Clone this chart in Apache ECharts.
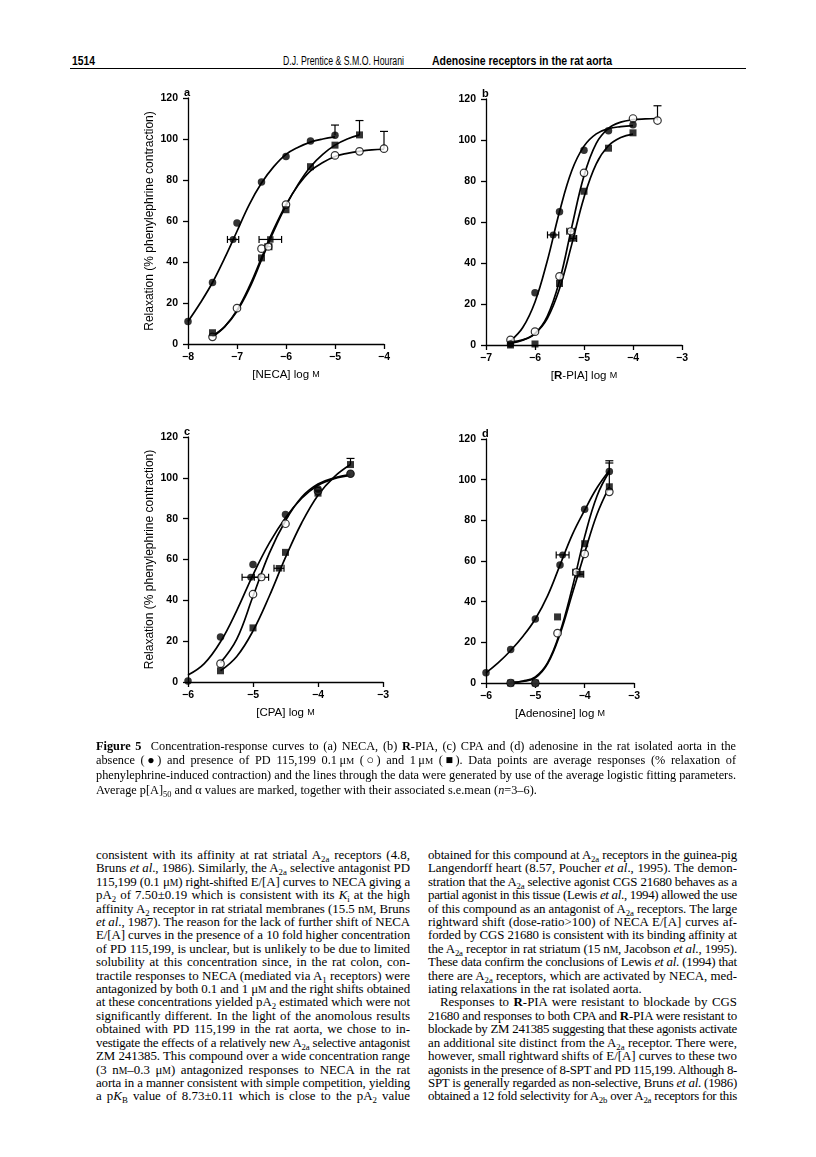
<!DOCTYPE html>
<html>
<head>
<meta charset="utf-8">
<script src="https://cdn.jsdelivr.net/npm/echarts@6/dist/echarts.min.js"></script>
<style>
body { margin: 0; background: #fff; }
#page { position: relative; width: 816px; height: 1157px; overflow: hidden; background: #fff; }
#main { position: absolute; left: 0; top: 0; width: 816px; height: 745px; }
.hd { position: absolute; top: 54px; font-family: 'Liberation Sans', Arial, sans-serif; font-size: 12.5px; line-height: 14px; color: #000; white-space: nowrap; transform-origin: 0 0; }
.rule { position: absolute; left: 70px; top: 68px; width: 676px; border-top: 1.5px solid #000; }
.cap { position: absolute; left: 96px; top: 739px; width: 640px; font-family: 'Liberation Serif', serif; font-size: 12.3px; line-height: 14.2px; color: #000; }
.col { position: absolute; top: 849px; font-family: 'Liberation Serif', serif; font-size: 12.9px; line-height: 13.4px; color: #000; }
.cap div, .col div { white-space: nowrap; text-align: justify; text-align-last: justify; }
.cap div.last, .col div.last { text-align-last: left; }
.ind { text-indent: 12px; }
sub { font-size: 0.68em; vertical-align: -0.3em; line-height: 0; }
.sc { font-size: 0.75em; }
</style>
</head>
<body>
<div id="page">
  <div class="hd" data-w="23" style="left:72px;font-weight:bold;">1514</div>
  <div class="hd" data-w="121" style="left:283px;">D.J. Prentice &amp; S.M.O. Hourani</div>
  <div class="hd" data-w="180" style="left:432px;font-weight:bold;">Adenosine receptors in the rat aorta</div>
  <div class="rule"></div>

  <div id="main"></div>

  <div class="cap">
    <div><b>Figure 5</b>&nbsp; Concentration-response curves to (a) NECA, (b) <b>R</b>-PIA, (c) CPA and (d) adenosine in the rat isolated aorta in the</div>
    <div>absence (&#9679;) and presence of PD 115,199 0.1&thinsp;&mu;<span class="sc">M</span> (&#9675;) and 1&thinsp;&mu;<span class="sc">M</span> (&#9632;). Data points are average responses (% relaxation of</div>
    <div>phenylephrine-induced contraction) and the lines through the data were generated by use of the average logistic fitting parameters.</div>
    <div class="last">Average p[A]<sub>50</sub> and &alpha; values are marked, together with their associated s.e.mean (<i>n</i>=3&ndash;6).</div>
  </div>

  <div class="col" style="left:96px;width:314px;">
    <div>consistent with its affinity at rat striatal A<sub>2a</sub> receptors (4.8,</div>
    <div>Bruns <i>et al</i>., 1986). Similarly, the A<sub>2a</sub> selective antagonist PD</div>
    <div>115,199 (0.1 &mu;<span class="sc">M</span>) right-shifted E/[A] curves to NECA giving a</div>
    <div>pA<sub>2</sub> of 7.50&plusmn;0.19 which is consistent with its <i>K</i><sub>i</sub> at the high</div>
    <div>affinity A<sub>2</sub> receptor in rat striatal membranes (15.5 n<span class="sc">M</span>, Bruns</div>
    <div><i>et al</i>., 1987). The reason for the lack of further shift of NECA</div>
    <div>E/[A] curves in the presence of a 10 fold higher concentration</div>
    <div>of PD 115,199, is unclear, but is unlikely to be due to limited</div>
    <div>solubility at this concentration since, in the rat colon, con-</div>
    <div>tractile responses to NECA (mediated via A<sub>1</sub> receptors) were</div>
    <div>antagonized by both 0.1 and 1 &mu;<span class="sc">M</span> and the right shifts obtained</div>
    <div>at these concentrations yielded pA<sub>2</sub> estimated which were not</div>
    <div>significantly different. In the light of the anomolous results</div>
    <div>obtained with PD 115,199 in the rat aorta, we chose to in-</div>
    <div>vestigate the effects of a relatively new A<sub>2a</sub> selective antagonist</div>
    <div>ZM 241385. This compound over a wide concentration range</div>
    <div>(3 n<span class="sc">M</span>&ndash;0.3 &mu;<span class="sc">M</span>) antagonized responses to NECA in the rat</div>
    <div>aorta in a manner consistent with simple competition, yielding</div>
    <div>a p<i>K</i><sub>B</sub> value of 8.73&plusmn;0.11 which is close to the pA<sub>2</sub> value</div>
  </div>

  <div class="col" style="left:428px;width:309px;">
    <div>obtained for this compound at A<sub>2a</sub> receptors in the guinea-pig</div>
    <div>Langendorff heart (8.57, Poucher <i>et al</i>., 1995). The demon-</div>
    <div>stration that the A<sub>2a</sub> selective agonist CGS 21680 behaves as a</div>
    <div>partial agonist in this tissue (Lewis <i>et al</i>., 1994) allowed the use</div>
    <div>of this compound as an antagonist of A<sub>2a</sub> receptors. The large</div>
    <div>rightward shift (dose-ratio&gt;100) of NECA E/[A] curves af-</div>
    <div>forded by CGS 21680 is consistent with its binding affinity at</div>
    <div>the A<sub>2a</sub> receptor in rat striatum (15 n<span class="sc">M</span>, Jacobson <i>et al</i>., 1995).</div>
    <div>These data confirm the conclusions of Lewis <i>et al</i>. (1994) that</div>
    <div>there are A<sub>2a</sub> receptors, which are activated by NECA, med-</div>
    <div class="last">iating relaxations in the rat isolated aorta.</div>
    <div class="ind">Responses to <b>R</b>-PIA were resistant to blockade by CGS</div>
    <div>21680 and responses to both CPA and <b>R</b>-PIA were resistant to</div>
    <div>blockade by ZM 241385 suggesting that these agonists activate</div>
    <div>an additional site distinct from the A<sub>2a</sub> receptor. There were,</div>
    <div>however, small rightward shifts of E/[A] curves to these two</div>
    <div>agonists in the presence of 8-SPT and PD 115,199. Although 8-</div>
    <div>SPT is generally regarded as non-selective, Bruns <i>et al</i>. (1986)</div>
    <div>obtained a 12 fold selectivity for A<sub>2b</sub> over A<sub>2a</sub> receptors for this</div>
  </div>
</div>

<script>
// squeeze header runs and over-long text lines to the widths of the page
function fitText() {
    document.querySelectorAll('.hd').forEach(function (el) {
        var w = el.getBoundingClientRect().width;
        var target = parseFloat(el.getAttribute('data-w'));
        el.style.transform = 'scaleX(' + (target / w) + ')';
    });
    document.querySelectorAll('.cap div, .col div').forEach(function (div) {
        var W = div.clientWidth;
        var indent = div.classList.contains('ind') ? 12 : 0;
        var keepLast = div.classList.contains('last');
        div.style.textAlign = 'left';
        div.style.textAlignLast = 'left';
        var r = document.createRange();
        r.selectNodeContents(div);
        var w = r.getBoundingClientRect().width + indent;
        if (w > W) {
            var n = div.textContent.length;
            div.style.letterSpacing = (-(w - W + 1) / n) + 'px';
        }
        div.style.textAlign = '';
        div.style.textAlignLast = keepLast ? 'left' : '';
    });
}
fitText();

// ---- data (log M, % relaxation) ----
// (a) NECA
var aCtrlX = [-8, -7.5, -7, -6.5, -6, -5.5, -5];
var aCtrlY = [11, 30, 59, 79, 91.5, 99, 101.8];
var aOpenX = [-7.5, -7, -6.5, -6, -5, -4.5, -4];
var aOpenY = [3.5, 17.5, 46.5, 68, 92, 94, 95.3];
var aSqX = [-7.5, -6.5, -6, -5.5, -5, -4.5];
var aSqY = [5.5, 42, 65.5, 86.5, 97, 102];
var aCtrlCurveX = [-8, -7.75, -7.5, -7.25, -7, -6.75, -6.5, -6.25, -6, -5.75, -5.5, -5.25, -5];
var aCtrlCurveY = [11, 20, 30, 42, 55, 68, 78.5, 86.5, 92.5, 96, 98.5, 100, 101];
var aOpenCurveX = [-7.5, -7.25, -7, -6.75, -6.5, -6.25, -6, -5.75, -5.5, -5.25, -5, -4.75, -4.5, -4.25, -4];
var aOpenCurveY = [3.5, 8.5, 16.5, 28, 42, 56, 68, 77.5, 84.5, 88.5, 91.5, 93, 94, 94.7, 95];
var aSqCurveX = [-7.5, -7.25, -7, -6.75, -6.5, -6.25, -6, -5.75, -5.5, -5.25, -5, -4.75, -4.5];
var aSqCurveY = [4, 8.5, 16, 27, 41, 55, 67.5, 78, 86.5, 92.5, 97, 100, 102];
var aVErr = [[-5, 101.8, 106.8], [-4.5, 102, 109], [-4, 95.3, 103.7]];
var aHErr = [[-7.195, -6.965, 51, 'c'], [-6.55, -6.09, 51, 's'], [-6.43, -6.29, 47.5, 'o']];

// (b) R-PIA
var bCtrlX = [-6.5, -6, -5.5, -5, -4.5, -4];
var bCtrlY = [0.5, 25.5, 65, 95, 104.5, 107.5];
var bOpenX = [-6.5, -6, -5.5, -5, -4, -3.5];
var bOpenY = [2.5, 6.5, 33.5, 84, 110.5, 109.5];
var bSqX = [-6.5, -6, -5.5, -5, -4.5, -4];
var bSqY = [0, 0.5, 30, 75, 96, 103.5];
var bCtrlCurveX = [-6.5, -6.25, -6, -5.75, -5.5, -5.25, -5, -4.75, -4.5, -4.25, -4];
var bCtrlCurveY = [2, 8.5, 21, 41, 65, 85, 97, 103, 105.5, 106.5, 107];
var bOpenCurveX = [-6.5, -6.25, -6, -5.75, -5.5, -5.25, -5, -4.75, -4.5, -4.25, -4, -3.75, -3.5];
var bOpenCurveY = [1.5, 2.5, 5.6, 14, 31.3, 57.5, 82.6, 98.4, 105.7, 108.7, 109.9, 110.3, 110.5];
var bSqCurveX = [-6.5, -6.25, -6, -5.75, -5.5, -5.25, -5, -4.75, -4.5, -4.25, -4];
var bSqCurveY = [0.9, 2.3, 5.6, 12.9, 27.4, 49.1, 72, 88.4, 97.2, 101.2, 102.9];
var bVErr = [[-3.5, 109.5, 116.7]];
var bHErr = [[-5.745, -5.515, 53.7, 'c'], [-5.35, -5.19, 55.5, 'o'], [-5.29, -5.15, 52, 's']];

// (c) CPA
var cCtrlX = [-6, -5.5, -5, -4.5, -4, -3.5];
var cCtrlY = [0.5, 22, 57.5, 82, 94.5, 102];
var cOpenX = [-5.5, -5, -4.5, -4, -3.5];
var cOpenY = [9, 43, 77.5, 93.5, 102];
var cSqX = [-5.5, -5, -4.5, -4, -3.5];
var cSqY = [5.5, 26.5, 63.5, 92.5, 106.5];
var cCtrlCurveX = [-6, -5.75, -5.5, -5.25, -5, -4.75, -4.5, -4.25, -4, -3.75, -3.5];
var cCtrlCurveY = [3.4, 9, 19.7, 35, 52.5, 68, 80.5, 90, 96.4, 99.6, 101.2];
var cOpenCurveX = [-5.5, -5.25, -5, -4.75, -4.5, -4.25, -4, -3.75, -3.5];
var cOpenCurveY = [9.5, 21, 42, 63, 79, 90.6, 97, 100, 101.7];
var cSqCurveX = [-5.5, -5.25, -5, -4.75, -4.5, -4.25, -4, -3.75, -3.5];
var cSqCurveY = [5.5, 12.5, 25, 42, 61, 78, 91.5, 100.5, 106.5];
var cVErr = [[-3.5, 106.5, 109.5]];
var cHErr = [[-5.168, -4.902, 51.3, 'c'], [-4.98, -4.76, 51.3, 'o'], [-4.677, -4.523, 55.7, 's']];

// (d) Adenosine
var dCtrlX = [-6, -5.5, -5, -4.5, -4, -3.5];
var dCtrlY = [5, 16.5, 31.5, 58, 85.5, 104];
var dOpenX = [-5.5, -5, -4.55, -4, -3.5];
var dOpenY = [0, 0, 24.5, 63.5, 94];
var dSqX = [-5.5, -5, -4.55, -4, -3.5];
var dSqY = [0, 0, 32.5, 68.5, 96.5];
var dCtrlCurveX = [-6, -5.75, -5.5, -5.25, -5, -4.75, -4.5, -4.25, -4, -3.75, -3.5];
var dCtrlCurveY = [5, 10, 16, 23, 31.5, 43, 58, 73, 85, 96, 104.5];
var dOpenCurveX = [-5.5, -5.25, -5, -4.75, -4.5, -4.25, -4, -3.75, -3.5];
var dOpenCurveY = [0.3, 1, 3, 10, 25, 47, 72, 92, 104];
var dSqCurveX = [-5.5, -5.25, -5, -4.75, -4.5, -4.25, -4, -3.75, -3.5];
var dSqCurveY = [0.2, 0.8, 2.5, 9.5, 24, 44, 64, 83, 96.5];
var dVErr = [[-3.5, 96.5, 109.3], [-3.5, 104, 108.2]];
var dHErr = [[-4.577, -4.317, 63, 'c'], [-4.24, -4.1, 54.5, 'o'], [-4.18, -4.02, 53.5, 's']];

var yTicks = [0, 20, 40, 60, 80, 100, 120];

var grids = [
    {left: 188, top: 98, width: 196, height: 246},
    {left: 486, top: 99, width: 196, height: 246},
    {left: 188, top: 437, width: 195, height: 245},
    {left: 486, top: 439, width: 148, height: 244}
];
var xRanges = [[-8, -4], [-7, -3], [-6, -3], [-6, -3]];
var xNames = ['[NECA] log {sc|M}', '[{b|R}-PIA] log {sc|M}', '[CPA] log {sc|M}', '[Adenosine] log {sc|M}'];
var letters = ['a', 'b', 'c', 'd'];

var SANS = 'Liberation Sans, Arial, sans-serif';

function zip(xs, ys) {
    var out = [];
    for (var i = 0; i < xs.length; i++) out.push([xs[i], ys[i]]);
    return out;
}

var markStyle = {
    c: {symbol: 'circle', symbolSize: 7.5, itemStyle: {color: '#000'}},
    o: {symbol: 'circle', symbolSize: 7.5, itemStyle: {color: '#fff', borderColor: '#000', borderWidth: 1.2}},
    s: {symbol: 'rect', symbolSize: 7, itemStyle: {color: '#000'}}
};

function curve(i, xs, ys) {
    return {
        type: 'line', xAxisIndex: i, yAxisIndex: i, data: zip(xs, ys),
        smooth: 0.4, showSymbol: false, silent: true, z: 2,
        lineStyle: {color: '#000', width: 1.7}
    };
}

function points(i, key, xs, ys) {
    var m = markStyle[key];
    return {
        type: 'scatter', xAxisIndex: i, yAxisIndex: i, data: zip(xs, ys),
        symbol: m.symbol, symbolSize: m.symbolSize, itemStyle: m.itemStyle, z: 4
    };
}

// vertical s.e.mean bars, only upwards with a cap
function vErr(i, rows) {
    return {
        type: 'custom', xAxisIndex: i, yAxisIndex: i, data: rows, z: 3,
        encode: {x: 0, y: [1, 2]},
        renderItem: function (params, api) {
            var p0 = api.coord([api.value(0), api.value(1)]);
            var p1 = api.coord([api.value(0), api.value(2)]);
            var st = {stroke: '#000', lineWidth: 1.2};
            return {type: 'group', children: [
                {type: 'line', shape: {x1: p0[0], y1: p0[1], x2: p1[0], y2: p1[1]}, style: st},
                {type: 'line', shape: {x1: p1[0] - 4, y1: p1[1], x2: p1[0] + 4, y2: p1[1]}, style: st}
            ]};
        }
    };
}

// horizontal bars on the p[A]50 points
function hErr(i, rows) {
    return {
        type: 'custom', xAxisIndex: i, yAxisIndex: i, data: rows, z: 3,
        encode: {x: [0, 1], y: 2},
        renderItem: function (params, api) {
            var p0 = api.coord([api.value(0), api.value(2)]);
            var p1 = api.coord([api.value(1), api.value(2)]);
            var st = {stroke: '#000', lineWidth: 1.2};
            return {type: 'group', children: [
                {type: 'line', shape: {x1: p0[0], y1: p0[1], x2: p1[0], y2: p1[1]}, style: st},
                {type: 'line', shape: {x1: p0[0], y1: p0[1] - 3.5, x2: p0[0], y2: p0[1] + 3.5}, style: st},
                {type: 'line', shape: {x1: p1[0], y1: p1[1] - 3.5, x2: p1[0], y2: p1[1] + 3.5}, style: st}
            ]};
        }
    };
}

// centre marker of each horizontal bar
function hErrMarks(i, rows) {
    var out = [];
    rows.forEach(function (r) {
        var m = markStyle[r[3]];
        out.push({
            type: 'scatter', xAxisIndex: i, yAxisIndex: i,
            data: [[(r[0] + r[1]) / 2, r[2]]],
            symbol: m.symbol, symbolSize: m.symbolSize - 0.5, itemStyle: m.itemStyle, z: 5
        });
    });
    return out;
}

function panelSeries(i, d) {
    var s = [
        curve(i, d.cCx, d.cCy), curve(i, d.oCx, d.oCy), curve(i, d.sCx, d.sCy),
        vErr(i, d.vErr), hErr(i, d.hErr),
        points(i, 'o', d.oX, d.oY), points(i, 's', d.sX, d.sY), points(i, 'c', d.cX, d.cY)
    ];
    return s.concat(hErrMarks(i, d.hErr));
}

var panels = [
    {cX: aCtrlX, cY: aCtrlY, oX: aOpenX, oY: aOpenY, sX: aSqX, sY: aSqY,
     cCx: aCtrlCurveX, cCy: aCtrlCurveY, oCx: aOpenCurveX, oCy: aOpenCurveY, sCx: aSqCurveX, sCy: aSqCurveY,
     vErr: aVErr, hErr: aHErr},
    {cX: bCtrlX, cY: bCtrlY, oX: bOpenX, oY: bOpenY, sX: bSqX, sY: bSqY,
     cCx: bCtrlCurveX, cCy: bCtrlCurveY, oCx: bOpenCurveX, oCy: bOpenCurveY, sCx: bSqCurveX, sCy: bSqCurveY,
     vErr: bVErr, hErr: bHErr},
    {cX: cCtrlX, cY: cCtrlY, oX: cOpenX, oY: cOpenY, sX: cSqX, sY: cSqY,
     cCx: cCtrlCurveX, cCy: cCtrlCurveY, oCx: cOpenCurveX, oCy: cOpenCurveY, sCx: cSqCurveX, sCy: cSqCurveY,
     vErr: cVErr, hErr: cHErr},
    {cX: dCtrlX, cY: dCtrlY, oX: dOpenX, oY: dOpenY, sX: dSqX, sY: dSqY,
     cCx: dCtrlCurveX, cCy: dCtrlCurveY, oCx: dOpenCurveX, oCy: dOpenCurveY, sCx: dSqCurveX, sCy: dSqCurveY,
     vErr: dVErr, hErr: dHErr}
];

var xAxes = [], yAxes = [], series = [], graphics = [];
for (var i = 0; i < 4; i++) {
    xAxes.push({
        type: 'value', gridIndex: i, min: xRanges[i][0], max: xRanges[i][1], interval: 1,
        splitLine: {show: false},
        axisLine: {onZero: false, lineStyle: {color: '#000', width: 1.3}},
        axisTick: {inside: false, length: 5, lineStyle: {color: '#000', width: 1.3}},
        axisLabel: {
            margin: 8, color: '#000', fontFamily: SANS, fontWeight: 'bold', fontSize: 10.5,
            formatter: function (v) { return v < 0 ? '\u2212' + Math.abs(v) : String(v); }
        },
        name: xNames[i], nameLocation: 'middle', nameGap: 25,
        nameTextStyle: {
            color: '#000', fontFamily: SANS, fontSize: 11.5,
            rich: {sc: {fontSize: 9, fontFamily: SANS, color: '#000'},
                   b: {fontSize: 11.5, fontWeight: 'bold', fontFamily: SANS, color: '#000'}}
        }
    });
    yAxes.push({
        type: 'value', gridIndex: i, min: yTicks[0], max: yTicks[yTicks.length - 1], interval: 20,
        splitLine: {show: false},
        axisLine: {show: true, onZero: false, lineStyle: {color: '#000', width: 1.3}},
        axisTick: {show: true, inside: false, length: 5, lineStyle: {color: '#000', width: 1.3}},
        axisLabel: {margin: 10, color: '#000', fontFamily: SANS, fontWeight: 'bold', fontSize: 10.5},
        name: (i % 2 === 0) ? 'Relaxation (% phenylephrine contraction)' : '',
        nameLocation: 'middle', nameGap: 32,
        nameTextStyle: {color: '#000', fontFamily: SANS, fontSize: 12}
    });
    series = series.concat(panelSeries(i, panels[i]));
    graphics.push({
        type: 'text', left: grids[i].left - 4, top: grids[i].top - 11,
        style: {text: letters[i], font: 'bold 11px Liberation Sans', fill: '#000'}
    });
}

var myChart = echarts.init(document.getElementById('main'), null, {renderer: 'canvas'});
var option = {
    animation: false,
    backgroundColor: 'transparent',
    grid: grids,
    xAxis: xAxes,
    yAxis: yAxes,
    graphic: graphics,
    series: series
};
myChart.setOption(option);
</script>
</body>
</html>
